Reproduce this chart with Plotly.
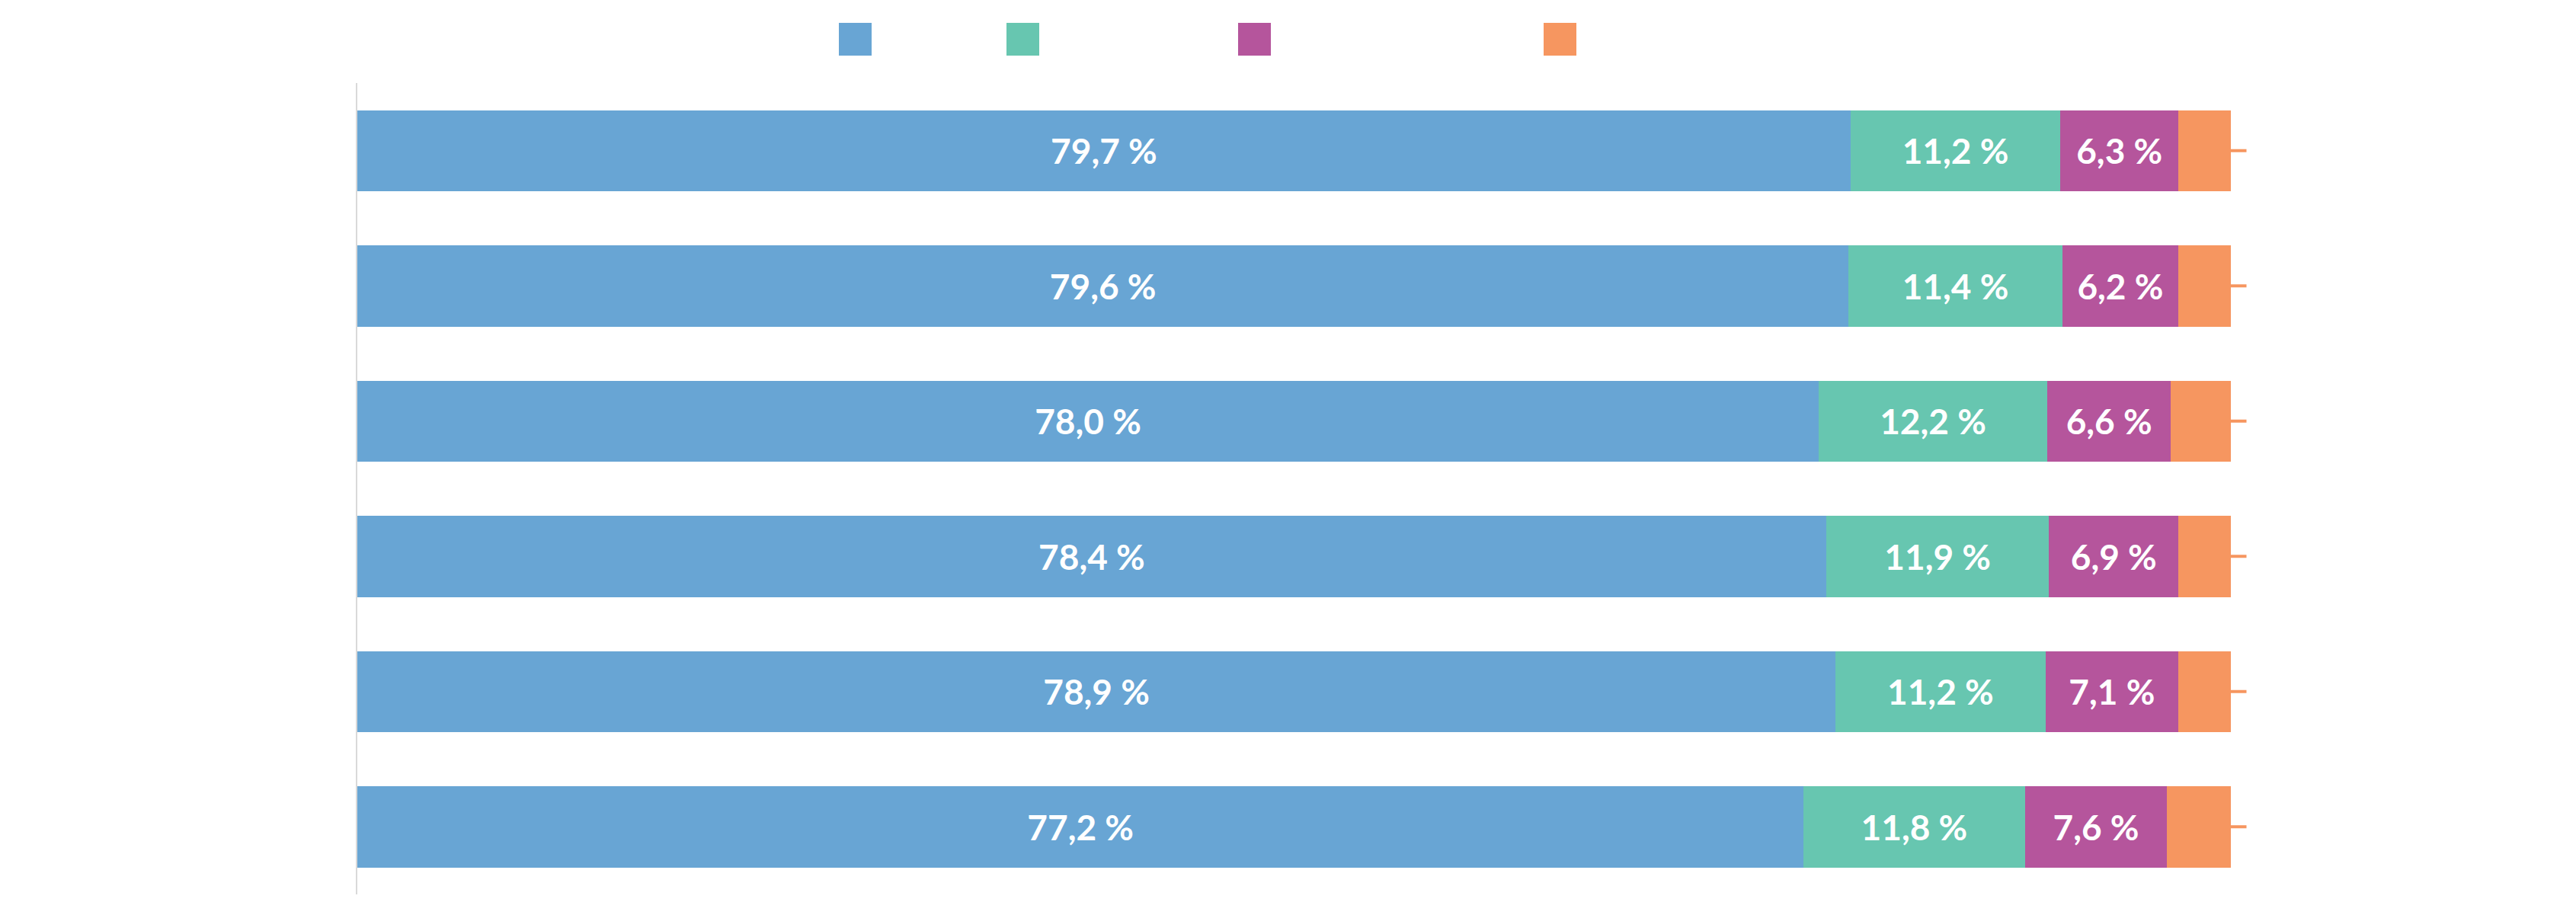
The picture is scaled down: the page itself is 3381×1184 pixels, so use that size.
import plotly.graph_objects as go

categories = ["Rad 1", "Rad 2", "Rad 3", "Rad 4", "Rad 5", "Rad 6"]
series_names = ["A", "B", "C", "D"]
s1 = [79.7, 79.6, 78.0, 78.4, 78.9, 77.2]
s2 = [11.2, 11.4, 12.2, 11.9, 11.2, 11.8]
s3 = [6.3, 6.2, 6.6, 6.9, 7.1, 7.6]
s4 = [2.8, 2.8, 3.2, 2.8, 2.8, 3.4]
colors = ["#68a5d4", "#67c6b0", "#b5559c", "#f69660"]

W, H = 3381, 1184
L, R, T, B = 461, 461, 101, 18

fig = go.Figure()
for name, vals, col, show in zip(series_names, [s1, s2, s3, s4], colors, [True, True, True, False]):
    fig.add_trace(go.Bar(
        y=categories, x=vals, orientation="h", name=name,
        marker=dict(color=col, line=dict(width=0)),
        texttemplate="%{x:.1f} %" if show else "",
        textposition="inside", insidetextanchor="middle",
        textfont=dict(color="white", size=46, family="Lato", weight=700),
        hoverinfo="skip",
    ))

annotations = []
for c in categories:
    annotations.append(dict(x=100, y=c, xref="x", yref="y", text="", showarrow=True,
                            ax=22, ay=0, arrowhead=0, arrowwidth=4, arrowcolor=colors[3],
                            standoff=0, startstandoff=0))

shapes = []
legend_px = [1093, 1313, 1617, 2018]
pw = W - L - R
ph = H - T - B
for px, col in zip(legend_px, colors):
    x0 = (px - L) / pw
    x1 = (px + 43 - L) / pw
    y0 = (H - B - 65) / ph
    y1 = (H - B - 22) / ph
    shapes.append(dict(type="rect", xref="paper", yref="paper", x0=x0, x1=x1, y0=y0, y1=y1,
                       fillcolor=col, line=dict(width=0)))

fig.update_layout(
    barmode="stack", bargap=0.4, width=W, height=H,
    margin=dict(l=L, r=R, t=T, b=B),
    paper_bgcolor="white", plot_bgcolor="white",
    separators=", ", showlegend=False,
    font=dict(family="Lato", size=44),
    xaxis=dict(range=[0, 100], visible=False, fixedrange=True),
    yaxis=dict(autorange="reversed", type="category", showticklabels=False, ticks="", showgrid=False,
               showline=True, linecolor="#d9d9d9", linewidth=2, zeroline=False),
    annotations=annotations, shapes=shapes,
)
fig.write_html("out.html")
